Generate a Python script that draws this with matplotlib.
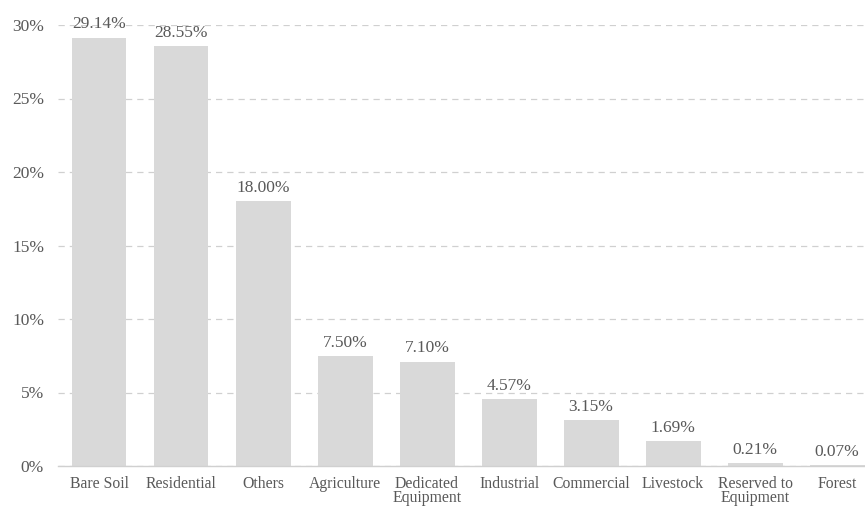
import matplotlib
matplotlib.use("Agg")
import matplotlib.pyplot as plt
from matplotlib.ticker import FuncFormatter

categories = ["Bare Soil", "Residential", "Others", "Agriculture", "Dedicated\nEquipment",
              "Industrial", "Commercial", "Livestock", "Reserved to\nEquipment", "Forest"]
shares = [29.14, 28.55, 18.00, 7.50, 7.10, 4.57, 3.15, 1.69, 0.21, 0.07]

plt.rcParams["font.family"] = ["Liberation Serif", "DejaVu Serif"]
text_color = "#595959"

fig = plt.figure(figsize=(8.65, 5.08), dpi=100)
ax = fig.add_axes([58 / 865, 42 / 508, 1 - 58 / 865, 441 / 508])

x = range(len(categories))
ax.bar(x, shares, width=0.67, color="#d9d9d9", zorder=2)
for xi, v in zip(x, shares):
    ax.text(xi, v + 0.35, f"{v:.2f}%", ha="center", va="bottom", fontsize=12.5,
            color=text_color, clip_on=False)

ax.set_ylim(0, 30)
ax.set_xlim(-0.5, 9.34)
ax.set_yticks([0, 5, 10, 15, 20, 25, 30])
ax.yaxis.set_major_formatter(FuncFormatter(lambda v, _: f"{v:.0f}%"))
ax.grid(axis="y", color="#d0d0d0", linestyle=(0, (5, 4)), linewidth=0.9, zorder=0)
ax.set_xticks(list(x))
ax.set_xticklabels(categories, linespacing=0.88)
ax.tick_params(axis="x", length=0, labelsize=11.3, labelcolor=text_color, pad=7)
ax.tick_params(axis="y", length=0, labelsize=12.5, labelcolor=text_color, pad=10)
for side in ["top", "right", "left"]:
    ax.spines[side].set_visible(False)
ax.spines["bottom"].set_color("#d0d0d0")
ax.spines["bottom"].set_linewidth(1.0)

fig.savefig("out.png", dpi=100)
plt.close(fig)
